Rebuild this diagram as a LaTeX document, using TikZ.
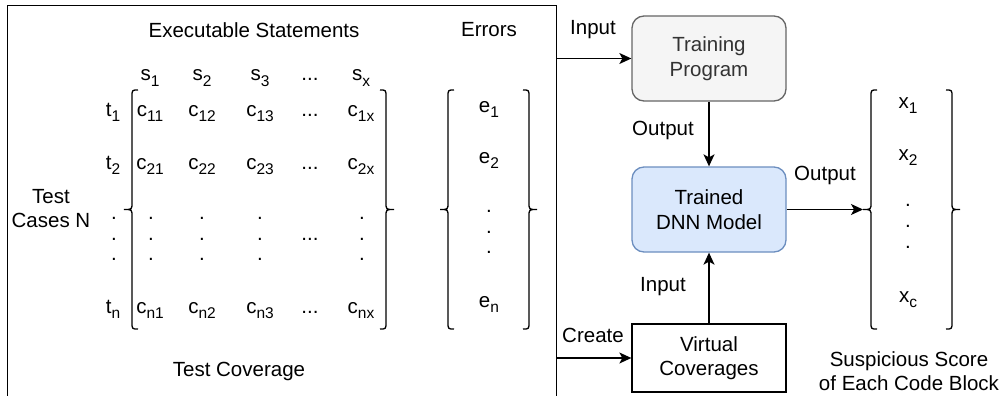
\documentclass[tikz,border=0pt]{standalone}
\usepackage{fontspec}
\setmainfont{Liberation Sans}
\usetikzlibrary{arrows.meta}
\definecolor{tpfill}{HTML}{F5F5F5}
\definecolor{tpline}{HTML}{666666}
\definecolor{tptext}{HTML}{333333}
\definecolor{dnnfill}{HTML}{DAE8FC}
\definecolor{dnnline}{HTML}{6C8EBF}
% lowered, smaller index text
\newcommand\sbs[1]{\raisebox{-0.5ex}{\fontsize{15.5}{15.5}\selectfont #1}}
% curly bracket: spine x, top y, bottom y, side (+1 opens right, -1 opens left)
\newcommand\cbrk[4]{%
  \draw[brk] ({#1+#4*6},#2) .. controls (#1,#2) .. (#1,{#2+7})
    -- (#1,{(#2+#3)/2-7}) .. controls (#1,{(#2+#3)/2}) .. ({#1-#4*8},{(#2+#3)/2})
    .. controls (#1,{(#2+#3)/2}) .. (#1,{(#2+#3)/2+7})
    -- (#1,{#3-7}) .. controls (#1,#3) .. ({#1+#4*6},#3);}
\begin{document}
\begin{tikzpicture}[x=1pt,y=-1pt,
  txt/.style={font=\fontsize{20.5}{24.5}\selectfont, inner sep=0pt, align=center},
  ent/.style={txt, anchor=base},
  brk/.style={line width=1.3pt},
  arr/.style={line width=1.3pt, -{Stealth[length=12pt,width=11pt,inset=3pt]}},
  block/.style={draw, line width=1.3pt, minimum width=154pt, minimum height=85pt, inner sep=0pt, txt}]
\useasboundingbox (0,0) rectangle (1001,396);
\clip (0,0) rectangle (1001,396);

% left panel
\node[draw, line width=1.3pt, anchor=north west, minimum width=549pt, minimum height=410pt, inner sep=0pt] (panel) at (7,5) {};

\node[txt] (hdr) at (254,30) {Executable Statements};
\node[txt] (errhdr) at (489,30) {Errors};
\node[txt] (cases) at (51,208.5) {Test\\Cases N};
\node[txt] (cov) at (239,371) {Test Coverage};

% column heads
\node[ent] (s1) at (150,81) {s\sbs{1}};
\node[ent] (s2) at (202,81) {s\sbs{2}};
\node[ent] (s3) at (260,81) {s\sbs{3}};
\node[ent] (sd) at (310,81) {...};
\node[ent] (sx) at (361,81) {s\sbs{x}};

% row heads
\node[ent] (t1) at (113,116) {t\sbs{1}};
\node[ent] (t2) at (113,169) {t\sbs{2}};
\node[ent] (tn) at (113,313) {t\sbs{n}};

% coverage entries
\node[ent] (c11) at (150,116) {c\sbs{11}};
\node[ent] (c12) at (202,116) {c\sbs{12}};
\node[ent] (c13) at (260,116) {c\sbs{13}};
\node[ent] (c1d) at (310,116) {...};
\node[ent] (c1x) at (361,116) {c\sbs{1x}};
\node[ent] (c21) at (150,169) {c\sbs{21}};
\node[ent] (c22) at (202,169) {c\sbs{22}};
\node[ent] (c23) at (260,169) {c\sbs{23}};
\node[ent] (c2d) at (310,169) {...};
\node[ent] (c2x) at (361,169) {c\sbs{2x}};
\node[ent] (cn1) at (150,313) {c\sbs{n1}};
\node[ent] (cn2) at (202,313) {c\sbs{n2}};
\node[ent] (cn3) at (260,313) {c\sbs{n3}};
\node[ent] (cnd) at (310,313) {...};
\node[ent] (cnx) at (361,313) {c\sbs{nx}};
\foreach \xx/\nm in {114/t,151/a,202/b,260/c,362/x}
  \foreach \yy/\k in {219/1,240/2,260/3}
    \node[ent] (v\nm\k) at (\xx,\yy) {.};
\node[ent] (vdots) at (310,240) {...};

% error vector
\node[ent] (e1) at (489,112) {e\sbs{1}};
\node[ent] (e2) at (489,163) {e\sbs{2}};
\foreach \yy/\k in {212/1,233/2,253/3}
  \node[ent] (ed\k) at (489,\yy) {.};
\node[ent] (en) at (489,307) {e\sbs{n}};

\cbrk{132}{90}{329}{1}
\cbrk{386}{90}{329}{-1}
\cbrk{448}{90}{329}{1}
\cbrk{529}{90}{329}{-1}

% pipeline blocks
\node[block, rounded corners=12pt, fill=tpfill, draw=tpline, text=tptext] (tp) at (709,58.5) {Training\\Program};
\node[block, rounded corners=12pt, fill=dnnfill, draw=dnnline] (dnn) at (709,209.5) {Trained\\DNN Model};
\node[block, minimum height=68pt] (vc) at (709,358) {Virtual\\Coverages};

% score vector
\node[ent] (x1) at (908,108) {x\sbs{1}};
\node[ent] (x2) at (908,160) {x\sbs{2}};
\foreach \yy/\k in {206/1,227/2,248/3}
  \node[ent] (xd\k) at (908,\yy) {.};
\node[ent] (xc) at (908,302) {x\sbs{c}};
\cbrk{871}{90}{329}{1}
\cbrk{952}{90}{329}{-1}
\coordinate (xin) at (863,209.5);
\node[txt] (susp) at (909,371) {Suspicious Score\\of Each Code Block};

% connectors
\draw[arr] (panel.east |- tp.west) -- (tp.west);
\draw[arr] (tp.south) -- (dnn.north);
\draw[arr] (dnn.east) -- (xin);
\draw[arr] (vc.north) -- (dnn.south);
\draw[arr] (panel.east |- vc.west) -- (vc.west);

% connector labels
\node[txt] (lin1) at (593,30) {Input};
\node[txt] (lout1) at (663,130) {Output};
\node[txt] (lout2) at (825,175) {Output};
\node[txt] (lin2) at (663,287) {Input};
\node[txt] (lcre) at (593,335) {Create};
\end{tikzpicture}
\end{document}
